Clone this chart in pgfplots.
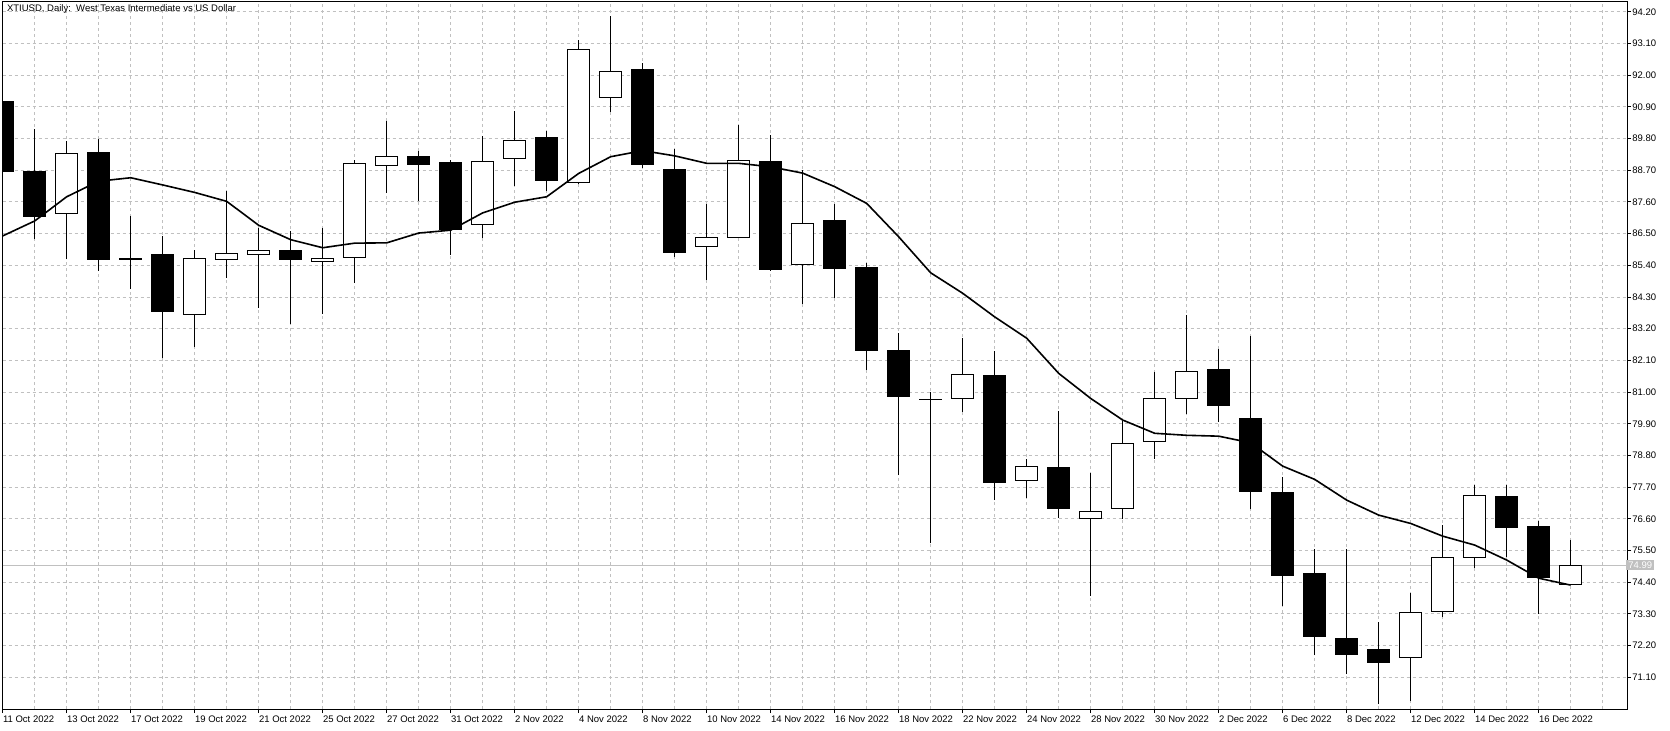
\documentclass[border=0pt]{standalone}
\usepackage{fontspec}
\setmainfont{Liberation Sans}
\usepackage{pgfplots}
\usepackage{pgfplotstable}
\pgfplotsset{compat=1.18}
\definecolor{gridgray}{RGB}{192,192,192}
\definecolor{pricegray}{RGB}{192,192,192}

\pgfplotstableread{
i o h l c
0 91.10 91.25 88.50 88.65
1 88.67 90.14 86.32 87.09
2 87.20 89.71 85.61 89.29
3 89.30 89.78 85.21 85.61
4 85.65 87.11 84.59 85.61
5 85.79 86.42 82.17 83.79
6 83.70 85.93 82.57 85.65
7 85.61 87.97 84.97 85.82
8 85.77 86.69 83.93 85.90
9 85.93 86.60 83.35 85.61
10 85.54 86.69 83.72 85.62
11 85.68 89.05 84.80 88.94
12 88.87 90.41 87.92 89.19
13 89.19 89.37 87.62 88.89
14 88.98 89.05 85.76 86.66
15 86.82 89.89 86.35 89.01
16 89.11 90.76 88.16 89.74
17 89.82 90.06 87.99 88.33
18 88.28 93.22 88.21 92.90
19 91.23 94.06 90.73 92.13
20 92.18 92.43 88.79 88.89
21 88.71 89.44 85.69 85.84
22 86.06 87.53 84.90 86.37
23 86.37 90.27 86.35 89.04
24 89.02 89.92 85.21 85.25
25 85.43 88.71 84.07 86.86
26 86.94 87.53 84.27 85.28
27 85.34 85.47 81.77 82.43
28 82.46 83.04 78.12 80.84
29 80.76 80.99 75.75 80.74
30 80.78 82.87 80.32 81.62
31 81.59 82.42 77.25 77.85
32 77.94 78.67 77.33 78.42
33 78.40 80.34 76.63 76.95
34 76.62 78.19 73.93 76.86
35 76.97 80.01 76.59 79.22
36 79.30 81.69 78.68 80.78
37 80.78 83.66 80.23 81.72
38 81.77 82.49 79.97 80.53
39 80.10 82.95 76.94 77.54
40 77.53 78.05 73.57 74.63
41 74.72 75.55 71.87 72.51
42 72.46 75.55 71.21 71.88
43 72.05 73.02 70.17 71.61
44 71.79 74.03 70.28 73.36
45 73.39 76.40 73.20 75.26
46 75.26 77.77 74.90 77.42
47 77.36 77.77 75.28 76.29
48 76.32 76.54 73.30 74.56
49 74.33 75.87 74.33 74.99
}\ohlc

\pgfplotstableread{
i ma
0 86.42
1 86.94
2 87.78
3 88.32
4 88.44
5 88.19
6 87.93
7 87.62
8 86.79
9 86.29
10 86.01
11 86.17
12 86.18
13 86.52
14 86.62
15 87.22
16 87.59
17 87.78
18 88.59
19 89.17
20 89.38
21 89.20
22 88.94
23 88.94
24 88.82
25 88.60
26 88.13
27 87.55
28 86.39
29 85.14
30 84.43
31 83.61
32 82.87
33 81.65
34 80.78
35 80.03
36 79.57
37 79.50
38 79.47
39 79.24
40 78.43
41 77.97
42 77.25
43 76.73
44 76.44
45 76.00
46 75.69
47 75.17
48 74.54
49 74.30
}\sma

\newcommand{\fs}{\fontsize{4.75}{5.5}\selectfont}
\pgfplotsset{
  base/.style={scale only axis, width=812.15pt, height=353.5pt,
    xmin=0, xmax=50.76, ymin=70.0, ymax=94.54, at={(0,0)}, anchor=south west},
}

\begin{document}
\begin{tikzpicture}
\begin{axis}[base,
  axis line style={line width=0.5pt, black},
  tick align=outside,
  xtick pos=bottom, ytick pos=right, yticklabel pos=right,
  major tick length=2pt,
  minor tick length=0pt,
  tick style={black, line width=0.5pt},
  xtick={0,2,...,48},
  minor xtick={1,3,5,7,9,11,13,15,17,19,21,23,25,27,29,31,33,35,37,39,41,43,45,47,49,50},
  xticklabels={11 Oct 2022,13 Oct 2022,17 Oct 2022,19 Oct 2022,21 Oct 2022,25 Oct 2022,27 Oct 2022,31 Oct 2022,2 Nov 2022,4 Nov 2022,8 Nov 2022,10 Nov 2022,14 Nov 2022,16 Nov 2022,18 Nov 2022,22 Nov 2022,24 Nov 2022,28 Nov 2022,30 Nov 2022,2 Dec 2022,6 Dec 2022,8 Dec 2022,12 Dec 2022,14 Dec 2022,16 Dec 2022},
  ytick={71.1,72.2,73.3,74.4,75.5,76.6,77.7,78.8,79.9,81.0,82.1,83.2,84.3,85.4,86.5,87.6,88.7,89.8,90.9,92.0,93.1,94.2},
  scaled y ticks=false,
  grid=both,
  grid style={gridgray, line width=0.5pt, dash pattern=on 1.5pt off 1.5pt},
  minor grid style={gridgray, line width=0.5pt, dash pattern=on 1.5pt off 1.5pt},
  ticklabel style={font=\fs},
  /pgf/number format/assume math mode=true,
  xticklabel style={anchor=base west, inner sep=0pt, yshift=-4.5pt},
  yticklabel style={anchor=west, inner sep=0pt, xshift=0.5pt,
    /pgf/number format/fixed, /pgf/number format/fixed zerofill, /pgf/number format/precision=2},
  extra y ticks={74.99},
  extra y tick style={grid=none, major tick length=0pt,
    yticklabel style={fill=pricegray, text=white, inner xsep=1pt, inner ysep=0.7pt, xshift=-1pt}},
]
\addplot[pricegray, line width=0.5pt, forget plot] coordinates {(0,74.99) (50.76,74.99)};
\addplot[draw=none, mark=none, forget plot,
  error bars/.cd, y dir=plus, y explicit, error mark=none,
  error bar style={draw=black, solid, line width=0.5pt}]
  table[x=i, y=l, y error expr=\thisrow{h}-\thisrow{l}] {\ohlc};
\node[anchor=west, inner sep=0pt, font=\fs, xshift=2pt, yshift=-3.65pt] at (rel axis cs:0,1) {XTIUSD, Daily:\ \ West Texas Intermediate vs US Dollar};
\end{axis}

\begin{axis}[base, hide axis, ybar stacked, bar width=0.7]
\addplot[fill=none, draw=none] table[x=i, y expr={min(\thisrow{o},\thisrow{c})}] {\ohlc};
\addplot[fill=black, draw=black, line width=0.5pt] table[x=i, y expr={max(\thisrow{o}-\thisrow{c},0)}] {\ohlc};
\addplot[fill=white, draw=black, line width=0.5pt] table[x=i, y expr={max(\thisrow{c}-\thisrow{o},0)}] {\ohlc};
\end{axis}

\begin{axis}[base, hide axis]
\addplot[black, line width=0.8pt, mark=none] table[x=i, y=ma] {\sma};
\end{axis}

\pgfresetboundingbox
\path[use as bounding box] (-1.35pt,-10.5pt) rectangle (833.65pt,354.5pt);
\end{tikzpicture}
\end{document}
